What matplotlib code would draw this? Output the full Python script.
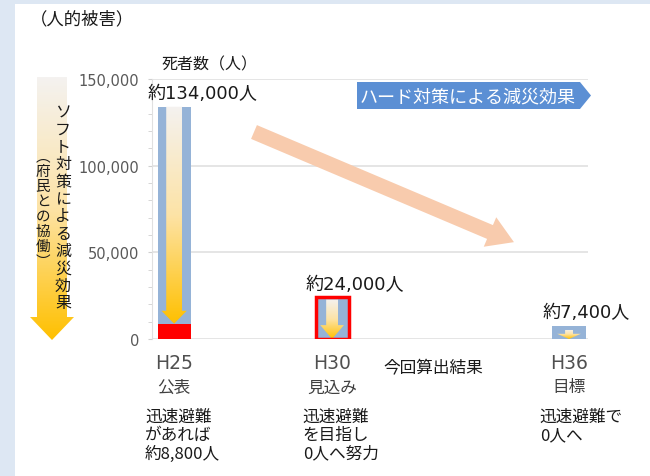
import numpy as np
import matplotlib
matplotlib.use('Agg')
import matplotlib.pyplot as plt
from matplotlib.patches import Polygon, Rectangle, FancyArrow
from matplotlib.colors import LinearSegmentedColormap
from matplotlib.ticker import MultipleLocator, FuncFormatter

plt.rcParams['font.family'] = ['Noto Sans CJK JP', 'DejaVu Sans']

# data
categories = ['H25', 'H30', 'H36']
sub_labels = ['公表', '見込み', '目標']
x_pos = [0, 1, 2.5]
deaths = [134000, 24000, 7400]
rapid_evac_h25 = 8800
value_labels = ['約134,000人', '約24,000人', '約7,400人']
notes = ['迅速避難\nがあれば\n約8,800人', '迅速避難\nを目指し\n0人へ努力', '迅速避難で\n0人へ']
y_ticks = [0, 50000, 100000, 150000]

BLUE = '#95b3d7'
GOLD = '#ffc000'
GRAD = LinearSegmentedColormap.from_list('g', ['#f4f2f0', '#fde3a6', GOLD])
TXT = '#1a1a1a'
NUMFONT = ['DejaVu Sans', 'Noto Sans CJK JP']


def grad_fill(ax, verts, cmap, zorder, flip=False):
    poly = Polygon(verts, closed=True, fc='none', ec='none')
    ax.add_patch(poly)
    xs, ys = zip(*verts)
    g = np.linspace(0, 1, 256).reshape(-1, 1)
    ext = [min(xs), max(xs), min(ys), max(ys)]
    if flip:  # y axis inverted
        ext = [min(xs), max(xs), max(ys), min(ys)]
    im = ax.imshow(g, cmap=cmap, aspect='auto', origin='upper', zorder=zorder,
                   extent=ext, interpolation='bilinear')
    im.set_clip_path(poly)
    return im


def down_arrow(ax, xc, top, bottom, shaft_w, head_w, head_len, zorder=3):
    verts = [(xc - shaft_w / 2, top), (xc + shaft_w / 2, top),
             (xc + shaft_w / 2, bottom + head_len), (xc + head_w / 2, bottom + head_len),
             (xc, bottom), (xc - head_w / 2, bottom + head_len),
             (xc - shaft_w / 2, bottom + head_len)]
    grad_fill(ax, verts, GRAD, zorder)


fig = plt.figure(figsize=(6.5, 4.77), dpi=100)
fig.patch.set_facecolor('#dde7f3')
fig.patches.append(Rectangle((15 / 650, 0), 1, 1 - 5 / 477, transform=fig.transFigure,
                             fc='white', ec='none', zorder=-1))

ax = fig.add_axes([152 / 650, 1 - 340 / 477, 436 / 650, 260 / 477])
ax.set_facecolor('none')
bw = 0.21
ax.bar(x_pos, deaths, width=bw, color=BLUE, zorder=2)
# red part of H25: remaining deaths with rapid evacuation
ax.bar(x_pos[0], rapid_evac_h25, width=bw, color='#ff0000', zorder=4)
# red frame on H30
ax.bar(x_pos[1], deaths[1], width=bw, color='none', edgecolor='#ff0000', linewidth=2.5, zorder=5)

down_arrow(ax, x_pos[0], deaths[0], rapid_evac_h25, 0.1, 0.16, 7500)
down_arrow(ax, x_pos[1], deaths[1] - 1200, 0, 0.075, 0.15, 8000)
down_arrow(ax, x_pos[2], deaths[2] - 2200, 0, 0.05, 0.15, 3000)

for x, v, lab in zip(x_pos, deaths, value_labels):
    ax.annotate(lab, (x - 0.17, v), xytext=(0, 10), textcoords='offset points',
                ha='left', va='center', fontsize=13, color=TXT, family=NUMFONT,
                annotation_clip=False)

ax.set_xlim(-0.14, 2.62)
ax.set_ylim(0, 150000)
ax.set_yticks(y_ticks)
ax.yaxis.set_major_formatter(FuncFormatter(lambda v, p: f'{int(v):,}'))
ax.yaxis.set_minor_locator(MultipleLocator(10000))
ax.tick_params(axis='y', which='both', length=3, color='#d0d0d0', labelsize=10.5,
               labelcolor='#595959', pad=6)
ax.set_xticks([])
ax.grid(axis='y', color='#e0e0e0', linewidth=1.2, zorder=0)
for s in ['top', 'right', 'bottom']:
    ax.spines[s].set_visible(False)
ax.spines['left'].set_color('#e0e0e0')
for lab in ax.get_yticklabels():
    lab.set_family(['DejaVu Sans'])

trans = ax.get_xaxis_transform()
for x, c, s, n in zip(x_pos, categories, sub_labels, notes):
    ax.text(x, -24 / 260, c, transform=trans, ha='center', va='center', fontsize=13.5,
            color='#505050', family=['DejaVu Sans'])
    ax.text(x, -48 / 260, s, transform=trans, ha='center', va='center', fontsize=12, color='#404040')
    ax.text(x - 0.185, -69 / 260, n, transform=trans, ha='left', va='top', fontsize=12,
            color=TXT, linespacing=1.1)
ax.text(1.64, -29 / 260, '今回算出結果', transform=trans, ha='center', va='center',
        fontsize=12, color=TXT)

# overlay in pixel coordinates for decorations
ov = fig.add_axes([0, 0, 1, 1])
ov.set_facecolor('none')
ov.axis('off')

ov.text(30, 19, '（人的被害）', fontsize=12.5, ha='left', va='center', color=TXT)
ov.text(162, 65, '死者数（人）', fontsize=11.5, ha='left', va='center', color=TXT)

# left gradient arrow (soft measures)
big = [(37, 78), (67, 78), (67, 318), (74, 318), (52, 341), (30, 318), (37, 318)]
grad_fill(ov, big, GRAD, 1, flip=True)
for i, ch in enumerate('ソフト対策による減災効果'):
    ov.text(63, 113 + i * 17.3, ch, fontsize=11.5, ha='center', va='center', color=TXT, zorder=3)
for i, ch in enumerate('︵府民との協働︶'):
    ov.text(43, 157 + i * 15, ch, fontsize=10.5, ha='center', va='center', color=TXT, zorder=3)

# hard measure label box
ov.add_patch(Polygon([(357, 83), (580, 83), (591, 96.5), (580, 110), (357, 110)],
                     closed=True, fc='#5b8fd4', ec='none'))
ov.text(468, 97, 'ハード対策による減災効果', fontsize=13, ha='center', va='center', color='white')

# diagonal peach arrow
ov.add_patch(FancyArrow(254, 133, 236, 100, width=15, head_width=32, head_length=26,
                        length_includes_head=False, fc='#f8cbad', ec='none'))

ov.set_xlim(0, 650)
ov.set_ylim(477, 0)

fig.savefig('out.png', dpi=100)
